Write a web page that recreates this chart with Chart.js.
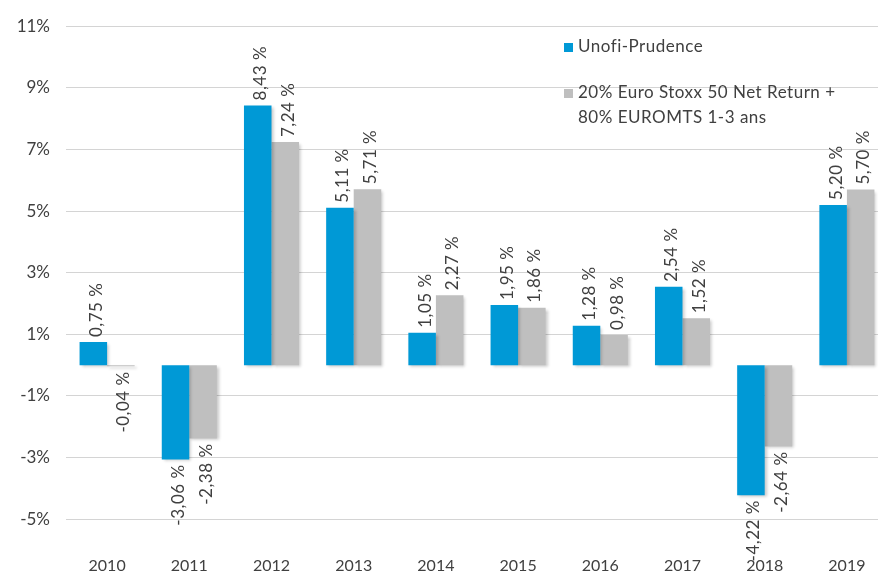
<!DOCTYPE html>
<html lang="fr">
<head>
  <meta charset="UTF-8">
  <title>Unofi-Prudence</title>
  <script src="https://cdn.jsdelivr.net/npm/chart.js@4/dist/chart.umd.min.js"></script>
  <style>
    * { box-sizing: border-box; margin: 0; padding: 0; }
    body { width: 878px; height: 580px; overflow: hidden; background: #fff; }
    #myChart { display: block; }
  </style>
</head>
<body>
  <canvas id="myChart" width="888" height="580"></canvas>

  <script>
    let years = ['2010', '2011', '2012', '2013', '2014', '2015', '2016', '2017', '2018', '2019'];
    let fundName = 'Unofi-Prudence';
    let fundValues = [0.75, -3.06, 8.43, 5.11, 1.05, 1.95, 1.28, 2.54, -4.22, 5.20];
    let benchName = ['20% Euro Stoxx 50 Net Return +', '80% EUROMTS 1-3 ans'];
    let benchValues = [-0.04, -2.38, 7.24, 5.71, 2.27, 1.86, 0.98, 1.52, -2.64, 5.70];
    let yTicks = [-5, -3, -1, 1, 3, 5, 7, 9, 11];

    const FONT = 'Lato, "Liberation Sans", sans-serif';

    function fmt(v) {
      return v.toFixed(2).replace('.', ',') + ' %';
    }

    // soft shadow under the bars
    let shadowPlugin = {
      id: 'barShadow',
      beforeDatasetDraw(chart) {
        let ctx = chart.ctx;
        ctx.save();
        ctx.shadowColor = 'rgba(0,0,0,0.22)';
        ctx.shadowBlur = 3;
        ctx.shadowOffsetX = 2;
        ctx.shadowOffsetY = 2;
      },
      afterDatasetDraw(chart) {
        chart.ctx.restore();
      }
    };

    // rotated value labels at the end of each bar
    let labelPlugin = {
      id: 'valueLabels',
      afterDraw(chart) {
        let ctx = chart.ctx;
        ctx.save();
        ctx.font = '17px ' + FONT;
        ctx.letterSpacing = '0.5px';
        ctx.fillStyle = '#404040';
        ctx.textBaseline = 'middle';
        chart.data.datasets.forEach((ds, i) => {
          let meta = chart.getDatasetMeta(i);
          meta.data.forEach((bar, j) => {
            let v = ds.data[j];
            ctx.save();
            ctx.translate(bar.x + 3, bar.y);
            ctx.rotate(-Math.PI / 2);
            if (v >= 0) {
              ctx.textAlign = 'left';
              ctx.fillText(fmt(v), 5, 0);
            } else {
              ctx.textAlign = 'right';
              ctx.fillText(fmt(v), -5, 0);
            }
            ctx.restore();
          });
        });
        ctx.restore();
      }
    };

    // legend drawn inside the plot, top right
    let legendPlugin = {
      id: 'innerLegend',
      afterDraw(chart) {
        let ctx = chart.ctx;
        ctx.save();
        ctx.font = '17px ' + FONT;
        ctx.letterSpacing = '0.5px';
        ctx.textBaseline = 'middle';
        let x = 564, y1 = 47, y2 = 93;
        ctx.fillStyle = '#0099d6';
        ctx.fillRect(x, y1 - 4, 9, 9);
        ctx.fillStyle = '#bfbfbf';
        ctx.fillRect(x, y2 - 4, 9, 9);
        ctx.fillStyle = '#404040';
        ctx.fillText(fundName, x + 14, y1);
        ctx.fillText(benchName[0], x + 14, y2);
        ctx.fillText(benchName[1], x + 14, y2 + 25);
        ctx.restore();
      }
    };

    function showChart() {
      let context = document.getElementById('myChart').getContext('2d');
      new Chart(context, {
        type: 'bar',
        data: {
          labels: years,
          datasets: [
            { label: fundName, data: fundValues, backgroundColor: '#0099d6', categoryPercentage: 0.67, barPercentage: 1.0 },
            { label: benchName.join(' '), data: benchValues, backgroundColor: '#bfbfbf', categoryPercentage: 0.67, barPercentage: 1.0 }
          ]
        },
        options: {
          responsive: false,
          animation: false,
          devicePixelRatio: 1,
          layout: { padding: { top: 20, right: 0, left: 0, bottom: 0 } },
          plugins: { legend: { display: false }, tooltip: { enabled: false } },
          scales: {
            x: {
              grid: { display: false, drawTicks: false },
              border: { display: false },
              ticks: { color: '#404040', font: { family: FONT, size: 16 }, padding: 6, maxRotation: 0 },
              afterFit(s) { s.height = 30; }
            },
            y: {
              min: -6,
              max: 11,
              afterBuildTicks(s) { s.ticks = yTicks.map(v => ({ value: v })); },
              grid: { color: '#d4d4d4', drawTicks: false },
              border: { display: false },
              ticks: { color: '#404040', font: { family: FONT, size: 17 }, padding: 16, callback: v => v + '%' },
              afterFit(s) { s.width = 66; }
            }
          }
        },
        plugins: [shadowPlugin, labelPlugin, legendPlugin]
      });
    }

    showChart();
  </script>
</body>
</html>
